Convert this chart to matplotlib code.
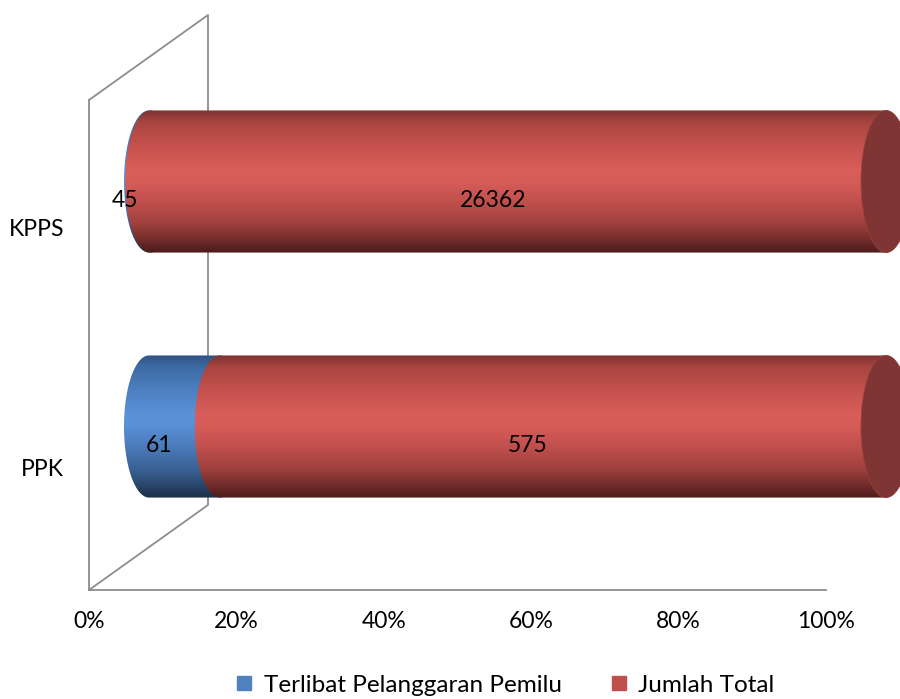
import numpy as np
import matplotlib
matplotlib.use("Agg")
import matplotlib.pyplot as plt
from matplotlib.path import Path
from matplotlib.patches import PathPatch, Ellipse
from matplotlib.lines import Line2D
from matplotlib.colors import LinearSegmentedColormap

plt.rcParams['font.family'] = ['Lato', 'DejaVu Sans']

# ---------------- data ----------------
categories = ['PPK', 'KPPS']            # bottom to top
terlibat = [61, 45]                      # Terlibat Pelanggaran Pemilu
jumlah_total = [575, 26362]              # Jumlah Total
series_names = ['Terlibat Pelanggaran Pemilu', 'Jumlah Total']
xtick_values = [0, 0.2, 0.4, 0.6, 0.8, 1.0]
xtick_labels = ['0%', '20%', '40%', '60%', '80%', '100%']

# ---------------- style ----------------
W, H, DPI = 900, 699, 100
FS = 16.5
FS_LEG = 17.5
legend_colors = ['#4F81BD', '#C0504D']
grad_stops = {
    0: [(0.0, '#2F5382'), (0.08, '#3D6AA3'), (0.25, '#4E80C2'), (0.42, '#5A93D9'),
        (0.5, '#5790D4'), (0.65, '#4A7AB8'), (0.8, '#3A6194'), (0.92, '#284568'), (1.0, '#1B2F49')],
    1: [(0.0, '#7C3432'), (0.08, '#A9443F'), (0.25, '#C6524E'), (0.42, '#D95E5B'),
        (0.5, '#D65C59'), (0.65, '#BF4F4C'), (0.8, '#9E403D'), (0.92, '#6E2B29'), (1.0, '#4A1B1A')],
}
cap_color = '#7E3533'
frame_color = '#8C8C8C'

fig = plt.figure(figsize=(W / DPI, H / DPI), dpi=DPI)

def px_rect(x0, x1, ytop, ybot):
    return [x0 / W, (H - ybot) / H, (x1 - x0) / W, (ybot - ytop) / H]

# front frame (axis plane)
fx0, fx1, fyt, fyb = 89, 826, 100, 590
depth_x, depth_y = 119, 85
ax0 = fig.add_axes(px_rect(fx0, fx1, fyt, fyb))
ax0.set_xlim(0, 1)
ax0.set_ylim(-0.51, 1.53)
ax0.set_xticks(xtick_values)
ax0.set_xticklabels(xtick_labels, fontsize=FS)
ax0.set_yticks(range(len(categories)))
ax0.set_yticklabels(categories, fontsize=FS)
ax0.tick_params(axis='x', length=0, pad=15)
ax0.tick_params(axis='y', length=0, pad=18)
for s in ['top', 'right']:
    ax0.spines[s].set_visible(False)
for s in ['left', 'bottom']:
    ax0.spines[s].set_color(frame_color)
    ax0.spines[s].set_linewidth(1.3)
ax0.patch.set_alpha(0)
# side wall outline (perspective)
dxa = depth_x / (fx1 - fx0)
dya = depth_y / (fyb - fyt)
ax0.add_line(Line2D([0, dxa, dxa, 0], [1, 1 + dya, dya, 0], transform=ax0.transAxes,
                    color=frame_color, lw=1.3, clip_on=False))

# bar plane (mid-depth)
bx0 = fx0 + depth_x / 2 + 0.5
bx1 = fx1 + depth_x / 2 + 0.5
byt = fyt - depth_y / 2 + 1.5
byb = fyb - depth_y / 2 + 1.5
ext = 0.1
span = bx1 - bx0
ax1 = fig.add_axes(px_rect(bx0 - ext * span, bx1 + ext * span, byt, byb))
ax1.axis('off')
ax1.patch.set_alpha(0)

tot = np.array(terlibat, float) + np.array(jumlah_total, float)
fr0 = np.array(terlibat) / tot
fr1 = np.array(jumlah_total) / tot
ypos = np.arange(len(categories))
bar_h = 0.58
bars0 = ax1.barh(ypos, fr0, height=bar_h, color='none', edgecolor='none')
bars1 = ax1.barh(ypos, fr1, left=fr0, height=bar_h, color='none', edgecolor='none')

cap_a = 25.0 / span   # ellipse half width in data units

def cyl_path(x0, x1, yb, yt):
    yc = (yb + yt) / 2
    b = (yt - yb) / 2
    t = np.linspace(np.pi / 2, -np.pi / 2, 60)
    right = np.column_stack([x1 + cap_a * np.cos(t), yc + b * np.sin(t)])
    t2 = np.linspace(-np.pi / 2, -3 * np.pi / 2, 60)
    left = np.column_stack([x0 + cap_a * np.cos(t2), yc + b * np.sin(t2)])
    verts = np.vstack([[[x0, yt]], right, left])
    codes = [Path.MOVETO] + [Path.LINETO] * (len(verts) - 2) + [Path.CLOSEPOLY]
    return Path(verts, codes)

for si, bars in enumerate([bars0, bars1]):
    cmap = LinearSegmentedColormap.from_list('g%d' % si, grad_stops[si])
    grad = cmap(np.linspace(0, 1, 256))[:, None, :]
    for r in bars:
        x0, w, yb, hh = r.get_x(), r.get_width(), r.get_y(), r.get_height()
        x1, yt = x0 + w, yb + hh
        p = cyl_path(x0, x1, yb, yt)
        patch = PathPatch(p, facecolor='none', edgecolor='none', transform=ax1.transData)
        ax1.add_patch(patch)
        im = ax1.imshow(grad, extent=[x0 - cap_a, x1 + cap_a, yb, yt], origin='upper',
                        aspect='auto', interpolation='bilinear', zorder=2 + si)
        im.set_clip_path(patch)
        if si == 1:
            ax1.add_patch(Ellipse((x1, yb + hh / 2), 2 * cap_a, hh, facecolor=cap_color,
                                  edgecolor='#9A403D', lw=0.6, zorder=5))

ax1.set_xlim(-ext, 1 + ext)
ax1.set_ylim(-0.5, 1.5)

# data labels
for bars, vals in [(bars0, terlibat), (bars1, jumlah_total)]:
    for r, v in zip(bars, vals):
        xc = r.get_x() + r.get_width() / 2
        yc = r.get_y() + r.get_height() / 2
        ax1.annotate(str(v), (xc, yc), xytext=(-25, -19), textcoords='offset pixels',
                     ha='center', va='center', fontsize=FS, color='black', zorder=10)

handles = [Line2D([], [], marker='s', ls='none', markersize=9.5, color=c) for c in legend_colors]
fig.legend(handles, series_names, loc='center', bbox_to_anchor=(505 / W, (H - 685) / H), ncol=2,
           frameon=False, fontsize=FS_LEG, handlelength=0.7, handletextpad=0.45,
           columnspacing=2.0, borderpad=0)

fig.savefig('out.png', dpi=DPI)
